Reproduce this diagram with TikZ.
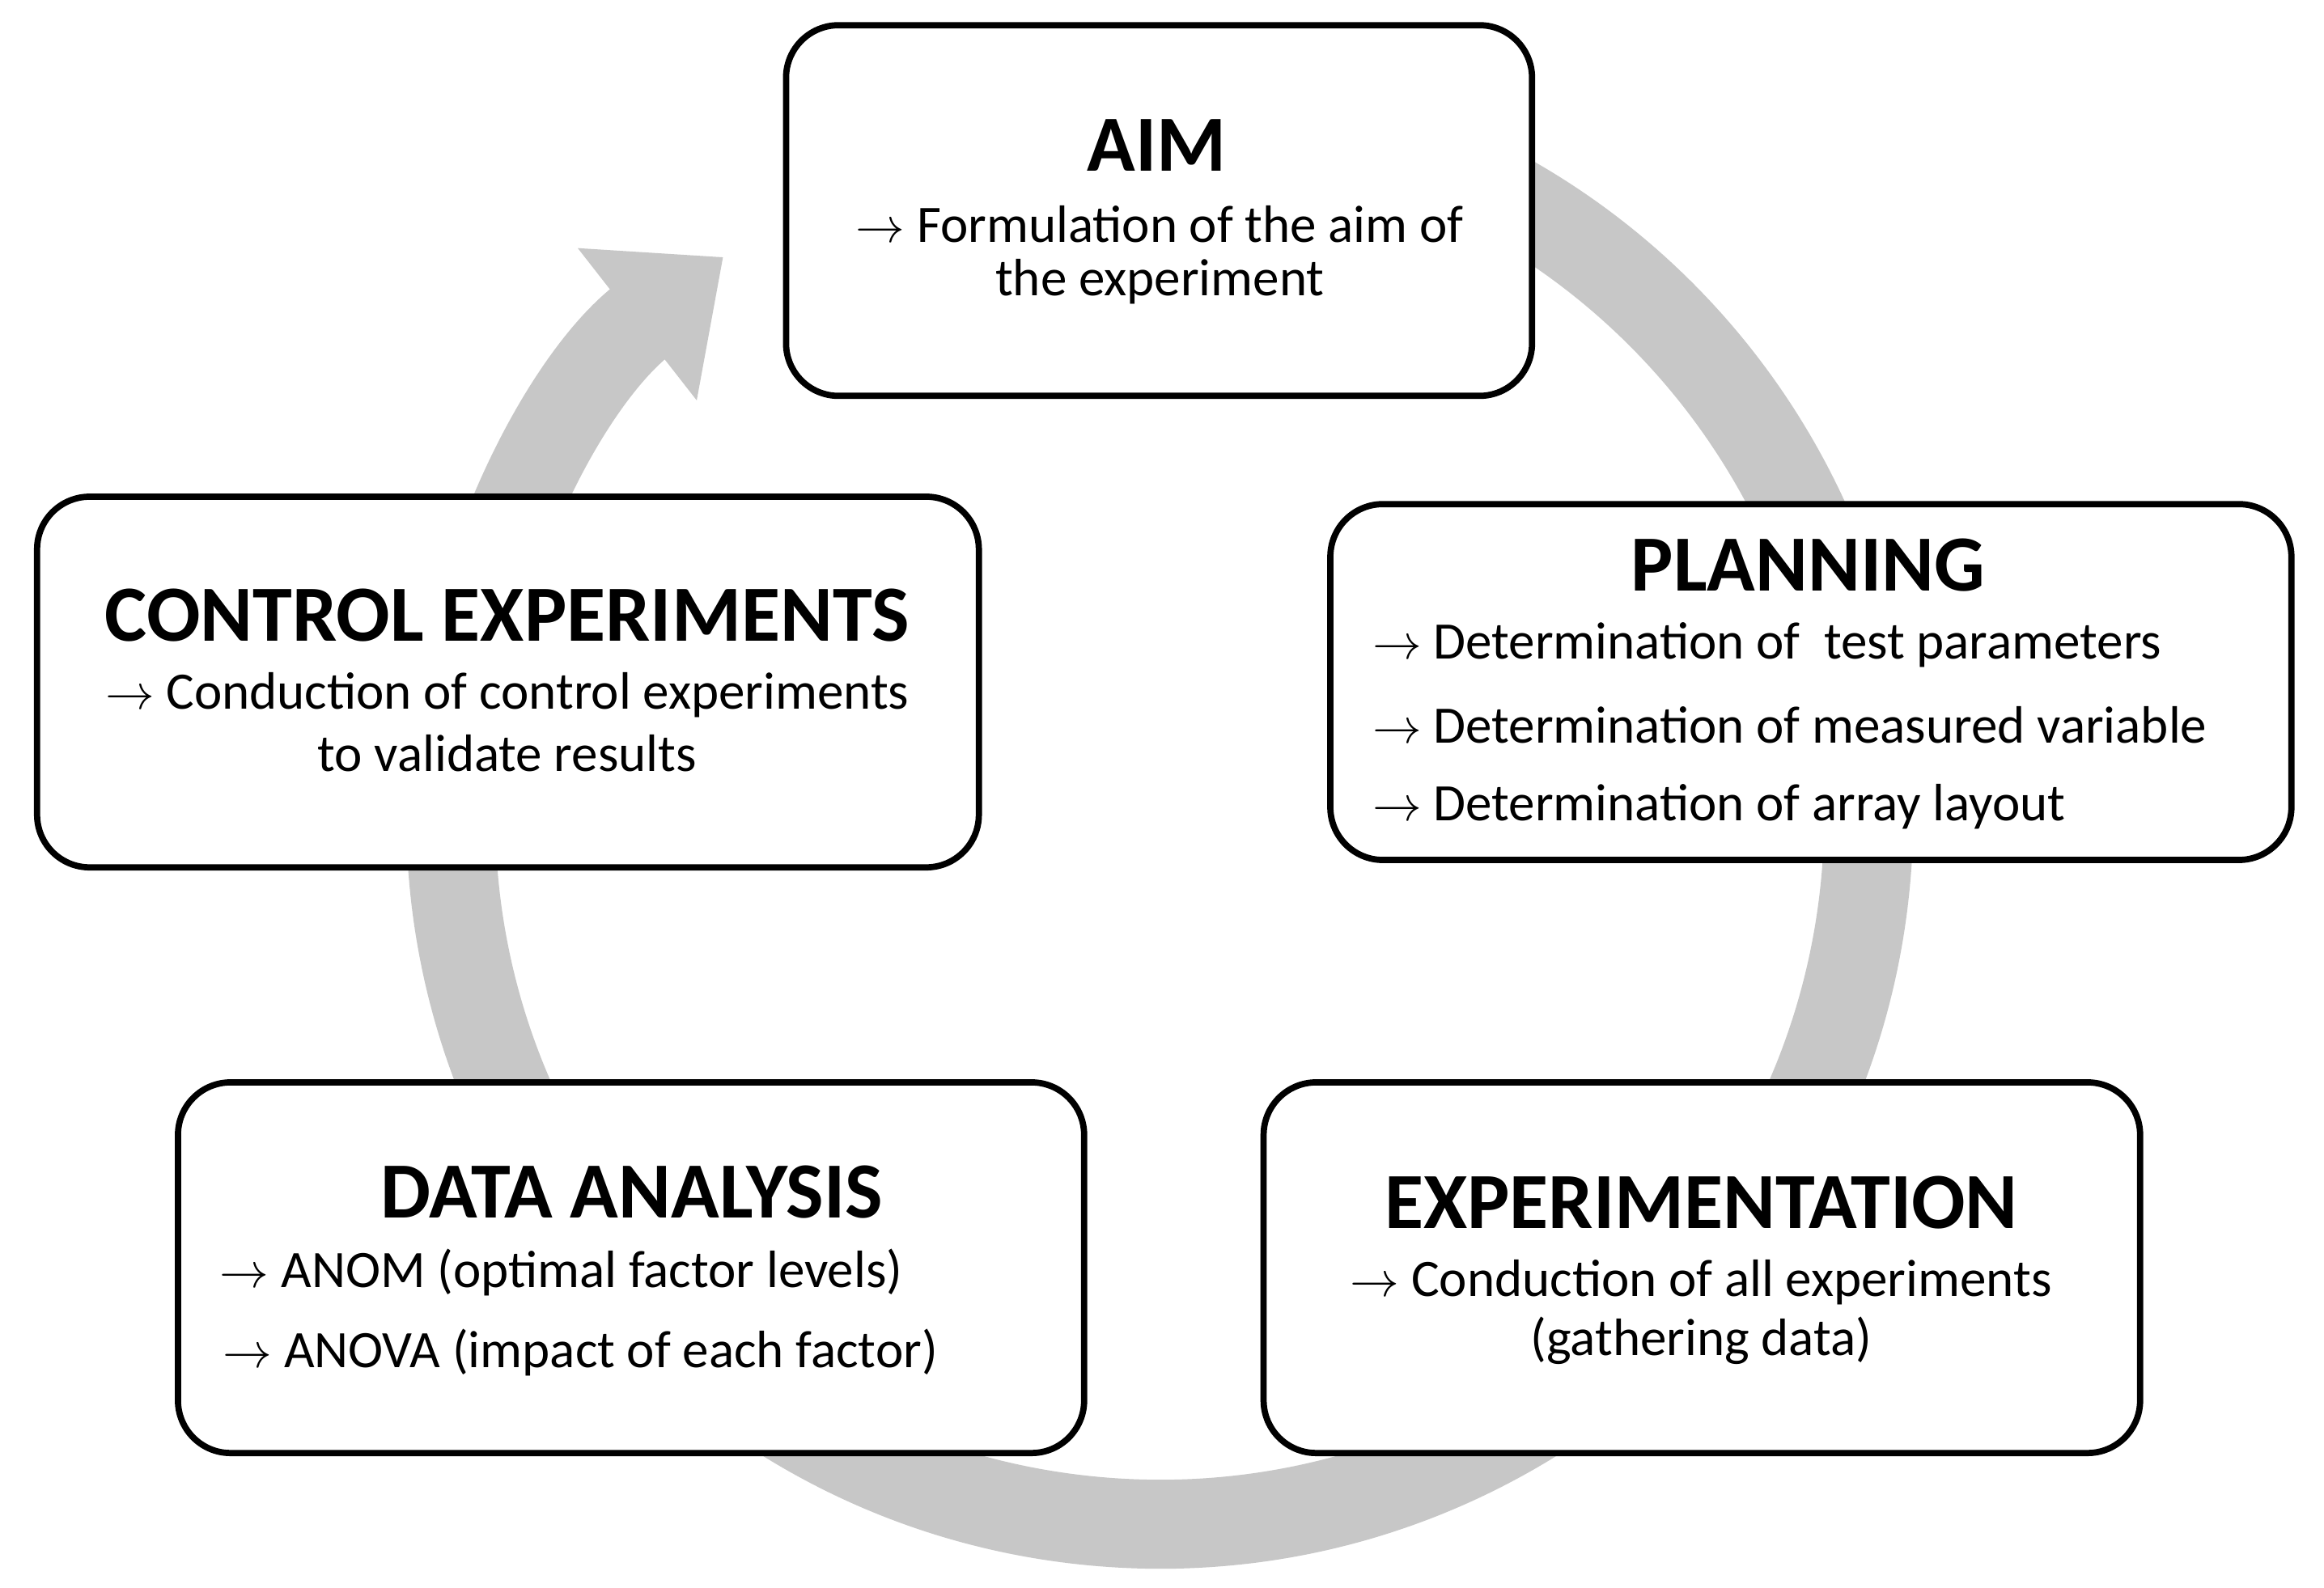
\documentclass[tikz,border=0pt]{standalone}
\usepackage{fontspec}
\setmainfont{Carlito}
\usetikzlibrary{arrows.meta}
\begin{document}
\begin{tikzpicture}[x=0.01833cm,y=-0.01833cm,
 box/.style={draw=black,line width=2.2pt,rounded corners=0.65cm,fill=white,inner sep=0},
 ttl/.style={font=\fontsize{28}{30}\selectfont\bfseries,inner sep=0},
 txt/.style={font=\fontsize{18.5}{21}\selectfont,inner sep=0,align=center}]
\useasboundingbox (0,0) rectangle (1567,1071);
\fill[white] (0,0) rectangle (1567,1071);
\coordinate (c) at (782,550);
\draw[line width=1.1cm,color=black!22,-{Triangle[width=2.3cm,length=1.35cm]}]
  ([shift={(-85:478)}]c) arc[start angle=-85,end angle=232,radius=478];
\node[box,minimum width=503*0.01833cm,minimum height=250*0.01833cm] (aim) at (781.5,142) {};
\node[box,minimum width=648*0.01833cm,minimum height=240*0.01833cm] (plan) at (1221,460) {};
\node[box,minimum width=591*0.01833cm,minimum height=250*0.01833cm] (exp) at (1147.5,855) {};
\node[box,minimum width=611*0.01833cm,minimum height=250*0.01833cm] (data) at (425.5,855) {};
\node[box,minimum width=635*0.01833cm,minimum height=250*0.01833cm] (ctrl) at (342.5,460) {};
\node[ttl] (t1) at (780,98) {AIM};
\node[txt] (l1) at (782,151) {$\rightarrow$ Formulation of the aim of};
\node[txt] (l2) at (782,190) {the experiment};
\node[ttl] (t2) at (342,415) {CONTROL EXPERIMENTS};
\node[txt] (l3) at (342,469) {$\rightarrow$ Conduction of control experiments};
\node[txt] (l4) at (342,508) {to validate results};
\node[ttl] (t3) at (1219,381) {PLANNING};
\node[txt,anchor=west] (l5) at (925,435) {$\rightarrow$ Determination of \ test parameters};
\node[txt,anchor=west] (l6) at (925,489) {$\rightarrow$ Determination of measured variable};
\node[txt,anchor=west] (l7) at (925,544) {$\rightarrow$ Determination of array layout};
\node[ttl] (t4) at (426,804) {DATA ANALYSIS};
\node[txt,anchor=west] (l8) at (148,858) {$\rightarrow$ ANOM (optimal factor levels)};
\node[txt,anchor=west] (l9) at (150,912) {$\rightarrow$ ANOVA (impact of each factor)};
\node[ttl] (t5) at (1147,811) {EXPERIMENTATION};
\node[txt] (l10) at (1147,865) {$\rightarrow$ Conduction of all experiments};
\node[txt] (l11) at (1147,904) {(gathering data)};
\end{tikzpicture}
\end{document}
